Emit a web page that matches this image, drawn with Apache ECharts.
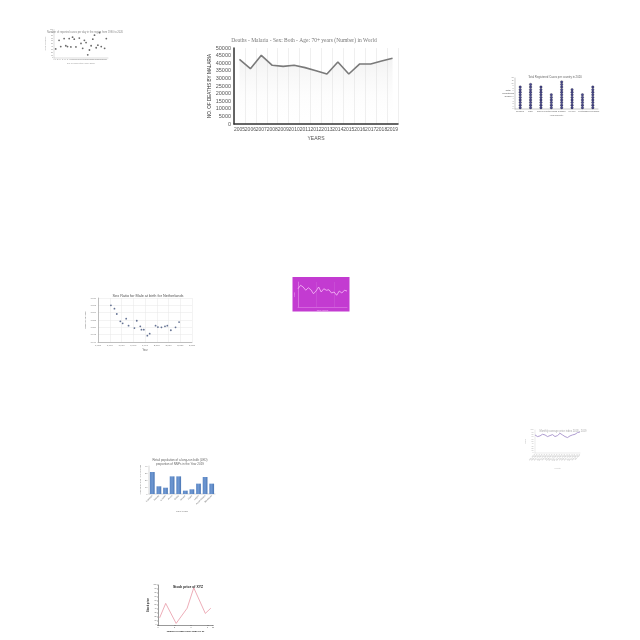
<!DOCTYPE html>
<html><head><meta charset="utf-8">
<script src="https://cdn.jsdelivr.net/npm/echarts@6/dist/echarts.min.js"></script>
<style>html,body{margin:0;padding:0;background:#fff}#c{width:640px;height:640px}</style>
</head><body><div id="c"></div>
<script>
// ---- Main chart: malaria deaths ----
const malariaYears = ['2005','2006','2007','2008','2009','2010','2011','2012','2013','2014','2015','2016','2017','2018','2019'];
const malariaDeaths = [42500,36400,45200,38600,37900,38600,37100,35100,32900,40800,32900,39500,39500,41400,43200];

// ---- Top-left scatter ----
const scatterPoints = [[1,32],[3,62],[4,40],[6,68],[7,43],[8,40],[9,68],[10,39],[11,73],[12,66],[13,39],[15,70],[16,51],[17,34],[18,62],[19,54],[20,11],[21,28],[22,43],[23,66],[24,80],[25,36],[26,45],[27,89],[28,40],[30,34],[31,68]];

// ---- Right dot chart ----
const dotCountries = ['Belgium','Chile','Sweden','Netherlands','Canada','Mexico','Portugal','New Zealand'];
const dotCounts = [9,10,9,6,11,8,6,9];

// ---- Netherlands sex ratio ----
const nlYears = [1961,1964,1966,1969,1971,1974,1976,1981,1983,1986,1987,1989,1992,1994,1999,2001,2004,2007,2009,2012,2016,2019];
const nlRatio = [1.065,1.0627,1.0591,1.0541,1.0527,1.0559,1.0511,1.0495,1.0545,1.0507,1.0484,1.0484,1.0443,1.0457,1.0511,1.0502,1.050,1.0507,1.0511,1.048,1.050,1.0536];

// ---- Magenta line ----
const magentaValues = [73,87,80,67,77,69,53,64,80,60,73,67,69,56,60,47,64,56,67,64];

// ---- Right small line ----
const purpleLabels = ['Jan 2018','Feb 2018','Mar 2018','Apr 2018','May 2018','Jun 2018','Jul 2018','Aug 2018','Sep 2018','Oct 2018','Nov 2018','Dec 2018','Jan 2019','Feb 2019','Mar 2019','Apr 2019','May 2019','Jun 2019','Jul 2019'];
const purpleValues = [78.6,71.4,74.3,81.4,78.6,71.4,75.7,80,71.4,75.7,85.7,78.6,71.4,67.1,74.3,78.6,81.4,88.6,91.4];

// ---- Bar chart ----
const barLocations = ['Kampala','Nairobi','Lusaka','Accra','Dakar','Harare','Kigali','Lagos','Addis Ababa','Mombasa'];
const barValues = [31.4,11,9,25.2,25.2,4.8,6.7,14.8,24.3,14.8];

// ---- Stock price line ----
const stockPoints = [[0.3,18],[1.4,54],[3.3,4],[5.3,42],[6.5,93],[8.6,29],[9.6,42]];

const chart = echarts.init(document.getElementById('c'), null, {renderer:'canvas'});
const sans = 'Liberation Sans, DejaVu Sans, sans-serif';
const tiny = (fs, color) => ({fontSize: fs, color: color || '#777', fontFamily: sans});

const dotData = [];
dotCounts.forEach((n, i) => { for (let k = 1; k <= n; k++) dotData.push([i, k - 0.5]); });

chart.setOption({
  animation: false,
  backgroundColor: '#fff',
  title: [
    {text: 'Deaths - Malaria - Sex: Both - Age: 70+ years (Number) in World', left: 299, top: 33, textAlign: 'center',
     textStyle: {fontSize: 5.5, fontWeight: 'normal', color: '#777', fontFamily: 'Liberation Serif, DejaVu Serif, serif'}},
    {text: 'Number of reported cases per day in the region from 1990 to 2020', left: 80, top: 25.5, textAlign: 'center',
     textStyle: {fontSize: 2.6, fontWeight: 'normal', color: '#888', fontFamily: sans}},
    {text: 'Total Registered Cases per country in 2020', left: 550, top: 71, textAlign: 'center',
     textStyle: {fontSize: 2.8, fontWeight: 'normal', color: '#666', fontFamily: sans}},
    {text: 'Sex Ratio for Male at birth for Netherlands', left: 143, top: 289, textAlign: 'center',
     textStyle: {fontSize: 3.8, fontWeight: 'normal', color: '#555', fontFamily: sans}},
    {text: 'Monthly average price index 2018 - 2019', left: 558, top: 425, textAlign: 'center',
     textStyle: {fontSize: 2.6, fontWeight: 'normal', color: '#aaa', fontFamily: sans}},
    {text: 'Retail population of a long-run bulb (LED)\nproportion of NNPs in the Year 2019', left: 175, top: 453, textAlign: 'center',
     textStyle: {fontSize: 3, lineHeight: 4, fontWeight: 'normal', color: '#666', fontFamily: sans}},
    {text: 'Stock price of XYZ', left: 183, top: 581, textAlign: 'center',
     textStyle: {fontSize: 3.4, fontWeight: 'bold', color: '#222', fontFamily: sans}}
  ],
  graphic: [
    {type: 'rect', shape: {x: 292.5, y: 277, width: 57, height: 34.5}, style: {fill: '#c33bd1'}, z: -1},
    {type: 'text', x: 508, y: 89, style: {text: 'Total\nRegistered\nCases', fontSize: 2.4, lineHeight: 3, fill: '#555', align: 'center', fontFamily: sans}}
  ],
  grid: [
    {left: 234, top: 48, width: 164, height: 76},
    {left: 54, top: 29.5, width: 54, height: 28.5},
    {left: 515, top: 78, width: 83, height: 31},
    {left: 98, top: 298, width: 94, height: 44},
    {left: 298, top: 282, width: 49, height: 25},
    {left: 535, top: 430, width: 45, height: 23},
    {left: 149, top: 466, width: 66, height: 28},
    {left: 158, top: 585, width: 55, height: 40}
  ],
  xAxis: [
    {gridIndex: 0, type: 'category', data: malariaYears, boundaryGap: true,
     axisLine: {lineStyle: {color: '#333', width: 1.5}}, axisTick: {show: false},
     axisLabel: {interval: 0, margin: 3, ...tiny(5, '#555')},
     splitLine: {show: true, lineStyle: {color: '#e4e4e4', width: 0.6}},
     name: 'YEARS', nameLocation: 'middle', nameGap: 12, nameTextStyle: tiny(5, '#555')},
    {gridIndex: 1, type: 'value', min: 0, max: 32, interval: 1,
     axisLine: {lineStyle: {color: '#aaa', width: 0.4}}, axisTick: {show: false},
     axisLabel: {margin: 1, ...tiny(1.8, '#888')}, splitLine: {show: false},
     name: 'Day of observation (1990-2020)', nameLocation: 'middle', nameGap: 4, nameTextStyle: tiny(2, '#999')},
    {gridIndex: 2, type: 'category', data: dotCountries,
     axisLine: {lineStyle: {color: '#777', width: 0.4}}, axisTick: {show: false},
     axisLabel: {interval: 0, margin: 1.5, ...tiny(2.2, '#666')},
     name: 'Year/Country', nameLocation: 'middle', nameGap: 5, nameTextStyle: tiny(2.4, '#666')},
    {gridIndex: 3, type: 'value', min: 1950, max: 2030, interval: 10,
     axisLine: {lineStyle: {color: '#888', width: 0.5}}, axisTick: {show: false},
     axisLabel: {margin: 2, ...tiny(2.4, '#777')},
     splitLine: {show: true, lineStyle: {color: '#e6e6e6', width: 0.5}},
     name: 'Year', nameLocation: 'middle', nameGap: 7, nameTextStyle: tiny(2.6, '#666')},
    {gridIndex: 4, type: 'category', data: magentaValues.map((_, i) => String(i + 1)), boundaryGap: false,
     axisLine: {lineStyle: {color: 'rgba(255,200,255,0.6)', width: 0.5}}, axisTick: {show: false},
     axisLabel: {show: false},
     splitLine: {show: true, lineStyle: {color: 'rgba(255,255,255,0.18)', width: 0.5}},
     name: 'Time period', nameLocation: 'middle', nameGap: 2.5, nameTextStyle: tiny(2.2, 'rgba(255,210,255,0.8)')},
    {gridIndex: 5, type: 'category', data: purpleLabels, boundaryGap: false,
     axisLine: {lineStyle: {color: '#ccc', width: 0.4}}, axisTick: {show: false},
     axisLabel: {interval: 0, rotate: 45, margin: 1.5, ...tiny(2, '#aaa')},
     name: 'Month', nameLocation: 'middle', nameGap: 14, nameTextStyle: tiny(2.2, '#bbb')},
    {gridIndex: 6, type: 'category', data: barLocations,
     axisLine: {lineStyle: {color: '#999', width: 0.4}}, axisTick: {show: false},
     axisLabel: {interval: 0, rotate: 45, margin: 1.5, ...tiny(2.2, '#777')},
     name: 'LOCATION', nameLocation: 'middle', nameGap: 16, nameTextStyle: tiny(2.4, '#777')},
    {gridIndex: 7, type: 'value', min: 0, max: 10, interval: 3,
     axisLine: {lineStyle: {color: '#333', width: 0.5}}, axisTick: {show: true, length: 1, lineStyle: {width: 0.4}},
     axisLabel: {margin: 1.5, ...tiny(2, '#444')}, splitLine: {show: false},
     name: 'Number of days since 2020-01-01', nameLocation: 'middle', nameGap: 5,
     nameTextStyle: {fontSize: 2.4, fontWeight: 'bold', color: '#222', fontFamily: sans}}
  ],
  yAxis: [
    {gridIndex: 0, type: 'value', min: 0, max: 50000, interval: 5000,
     axisLine: {show: true, lineStyle: {color: '#333', width: 1.5}}, axisTick: {show: false},
     axisLabel: {margin: 3, formatter: v => String(v), ...tiny(5.5, '#555')}, splitLine: {show: false},
     name: 'NO. OF DEATHS BY MALARIA', nameLocation: 'middle', nameGap: 21, nameTextStyle: tiny(4.6, '#333')},
    {gridIndex: 1, type: 'value', min: 0, max: 100, interval: 10,
     axisLine: {show: true, lineStyle: {color: '#aaa', width: 0.4}}, axisTick: {show: false},
     axisLabel: {margin: 1, ...tiny(1.8, '#888')}, splitLine: {show: false},
     name: 'Reported cases', nameLocation: 'middle', nameGap: 6, nameTextStyle: tiny(2, '#999')},
    {gridIndex: 2, type: 'value', min: 0, max: 12, interval: 1,
     axisLine: {show: true, lineStyle: {color: '#777', width: 0.4}}, axisTick: {show: false},
     axisLabel: {margin: 1.5, ...tiny(1.8, '#777')}, splitLine: {show: false}},
    {gridIndex: 3, type: 'value', min: 1.04, max: 1.07, interval: 0.005,
     axisLine: {show: true, lineStyle: {color: '#888', width: 0.5}}, axisTick: {show: false},
     axisLabel: {margin: 2, formatter: v => v.toFixed(3), ...tiny(2.2, '#777')},
     splitLine: {show: true, lineStyle: {color: '#e6e6e6', width: 0.5}},
     name: 'Male per female', nameLocation: 'middle', nameGap: 9, nameTextStyle: tiny(2.4, '#666')},
    {gridIndex: 4, type: 'value', min: 0, max: 100, interval: 20,
     axisLine: {show: true, lineStyle: {color: 'rgba(255,200,255,0.6)', width: 0.5}}, axisTick: {show: false},
     axisLabel: {show: false}, splitLine: {show: false},
     name: 'Value', nameLocation: 'middle', nameGap: 2.5, nameTextStyle: tiny(2, 'rgba(255,210,255,0.8)')},
    {gridIndex: 5, type: 'value', min: 0, max: 100, interval: 10,
     axisLine: {show: true, lineStyle: {color: '#ccc', width: 0.4}}, axisTick: {show: false},
     axisLabel: {margin: 1.5, ...tiny(1.8, '#aaa')}, splitLine: {show: false},
     name: 'Index', nameLocation: 'middle', nameGap: 6, nameTextStyle: tiny(2.2, '#bbb')},
    {gridIndex: 6, type: 'value', min: 0, max: 40, interval: 10,
     axisLine: {show: true, lineStyle: {color: '#999', width: 0.4}}, axisTick: {show: false},
     axisLabel: {margin: 1.5, ...tiny(2.2, '#777')}, splitLine: {show: false},
     name: 'Households using LED bulbs (%)', nameLocation: 'middle', nameGap: 8, nameTextStyle: tiny(2.1, '#777')},
    {gridIndex: 7, type: 'value', min: 0, max: 100, interval: 10,
     axisLine: {show: true, lineStyle: {color: '#333', width: 0.5}}, axisTick: {show: true, length: 1, lineStyle: {width: 0.4}},
     axisLabel: {margin: 1.5, ...tiny(1.8, '#444')}, splitLine: {show: false},
     name: 'Stock price', nameLocation: 'middle', nameGap: 7,
     nameTextStyle: {fontSize: 2.6, fontWeight: 'bold', color: '#222', fontFamily: sans}}
  ],
  series: [
    {type: 'line', xAxisIndex: 0, yAxisIndex: 0, data: malariaDeaths, symbol: 'none',
     lineStyle: {color: '#7a7a7a', width: 1.6},
     areaStyle: {color: new echarts.graphic.LinearGradient(0, 0, 0, 1, [{offset: 0, color: 'rgba(200,200,200,0.35)'}, {offset: 1, color: 'rgba(255,255,255,0)'}])}},
    {type: 'scatter', xAxisIndex: 1, yAxisIndex: 1, data: scatterPoints, symbolSize: 1.8,
     itemStyle: {color: '#444'}},
    {type: 'scatter', xAxisIndex: 2, yAxisIndex: 2, data: dotData, symbolSize: 2.5,
     itemStyle: {color: '#1b1b78', borderColor: '#000', borderWidth: 0.3}},
    {type: 'scatter', xAxisIndex: 3, yAxisIndex: 3, data: nlYears.map((y, i) => [y, nlRatio[i]]), symbolSize: 1.8,
     itemStyle: {color: '#3d4f78'}},
    {type: 'line', xAxisIndex: 4, yAxisIndex: 4, data: magentaValues, symbol: 'none',
     lineStyle: {color: '#f7c2f7', width: 0.8}},
    {type: 'line', xAxisIndex: 5, yAxisIndex: 5, data: purpleValues, symbol: 'none',
     lineStyle: {color: '#9a84c4', width: 0.8}},
    {type: 'bar', xAxisIndex: 6, yAxisIndex: 6, data: barValues, barCategoryGap: '28%',
     itemStyle: {color: new echarts.graphic.LinearGradient(0, 0, 1, 0, [{offset: 0, color: '#5a86c4'}, {offset: 0.5, color: '#6f98d2'}, {offset: 1, color: '#4a76b4'}])}},
    {type: 'line', xAxisIndex: 7, yAxisIndex: 7, data: stockPoints, symbol: 'none',
     lineStyle: {color: '#e58a9a', width: 0.7}}
  ]
});
</script></body></html>
